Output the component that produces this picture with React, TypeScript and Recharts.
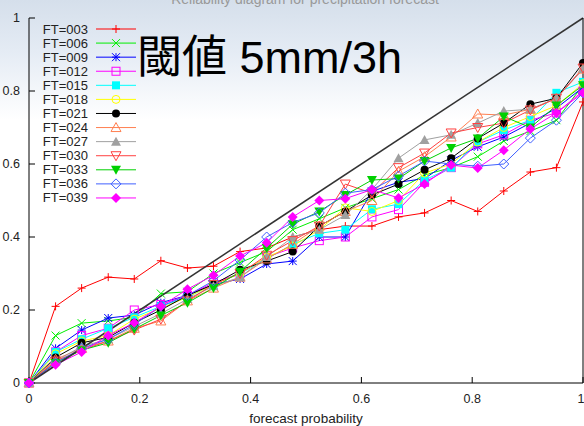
import React from 'react';
import { LineChart, Line, XAxis, YAxis, ReferenceLine } from 'recharts';

// forecast probability bins (x)
const probs = [0, 0.048, 0.095, 0.143, 0.19, 0.238, 0.286, 0.333, 0.381, 0.429, 0.476, 0.524, 0.571, 0.619, 0.667, 0.714, 0.762, 0.81, 0.857, 0.905, 0.952, 1];

// observed frequency per forecast time
const ft003 = [0, 0.21, 0.26, 0.29, 0.285, 0.335, 0.315, 0.32, 0.36, 0.37, 0.4, 0.42, 0.43, 0.43, 0.455, 0.466, 0.5, 0.47, 0.526, 0.578, 0.59, 0.77];
const ft006 = [0, 0.13, 0.164, 0.17, 0.18, 0.245, 0.25, 0.3, 0.33, 0.36, 0.42, 0.45, 0.48, 0.505, 0.53, 0.57, 0.59, 0.62, 0.663, 0.69, 0.72, 0.816];
const ft009 = [0, 0.095, 0.145, 0.178, 0.186, 0.22, 0.24, 0.27, 0.285, 0.326, 0.334, 0.4, 0.4, 0.525, 0.55, 0.56, 0.61, 0.647, 0.674, 0.712, 0.753, 0.81];
const ft012 = [0, 0.085, 0.13, 0.15, 0.2, 0.215, 0.24, 0.275, 0.3, 0.345, 0.37, 0.39, 0.4, 0.455, 0.475, 0.55, 0.59, 0.655, 0.68, 0.72, 0.74, 0.8];
const ft015 = [0, 0.085, 0.12, 0.15, 0.18, 0.21, 0.235, 0.27, 0.3, 0.34, 0.38, 0.41, 0.42, 0.476, 0.49, 0.556, 0.59, 0.66, 0.693, 0.72, 0.795, 0.825];
const ft018 = [0, 0.08, 0.115, 0.13, 0.175, 0.205, 0.235, 0.27, 0.3, 0.345, 0.375, 0.42, 0.48, 0.47, 0.5, 0.575, 0.6, 0.66, 0.7, 0.73, 0.76, 0.82];
const ft021 = [0, 0.07, 0.11, 0.125, 0.165, 0.2, 0.24, 0.27, 0.31, 0.334, 0.36, 0.43, 0.47, 0.515, 0.545, 0.584, 0.616, 0.67, 0.712, 0.764, 0.78, 0.877];
const ft024 = [0, 0.065, 0.095, 0.115, 0.15, 0.17, 0.225, 0.26, 0.29, 0.34, 0.38, 0.43, 0.47, 0.5, 0.58, 0.62, 0.674, 0.737, 0.734, 0.75, 0.78, 0.86];
const ft027 = [0, 0.06, 0.1, 0.12, 0.155, 0.19, 0.23, 0.265, 0.29, 0.345, 0.4, 0.42, 0.46, 0.53, 0.616, 0.666, 0.68, 0.712, 0.745, 0.75, 0.78, 0.86];
const ft030 = [0, 0.06, 0.09, 0.115, 0.145, 0.175, 0.225, 0.27, 0.3, 0.35, 0.39, 0.43, 0.545, 0.52, 0.59, 0.63, 0.685, 0.7, 0.712, 0.748, 0.78, 0.863];
const ft033 = [0, 0.055, 0.09, 0.11, 0.148, 0.185, 0.22, 0.26, 0.305, 0.37, 0.435, 0.47, 0.515, 0.556, 0.56, 0.608, 0.644, 0.67, 0.73, 0.7, 0.76, 0.816];
const ft036 = [0, 0.055, 0.095, 0.12, 0.16, 0.21, 0.24, 0.28, 0.337, 0.4, 0.44, 0.466, 0.52, 0.53, 0.567, 0.608, 0.6, 0.594, 0.6, 0.671, 0.72, 0.795];
const ft039 = [0, 0.05, 0.085, 0.13, 0.165, 0.21, 0.257, 0.295, 0.348, 0.384, 0.455, 0.5, 0.505, 0.53, 0.507, 0.545, 0.597, 0.589, 0.638, 0.696, 0.74, 0.795];

const axisTicks = [0, 0.2, 0.4, 0.6, 0.8, 1];

const series = [
  { key: 'ft003', name: 'FT=003', values: ft003, color: '#ff0000', shape: 'plus' },
  { key: 'ft006', name: 'FT=006', values: ft006, color: '#00ee00', shape: 'cross' },
  { key: 'ft009', name: 'FT=009', values: ft009, color: '#0000ff', shape: 'star' },
  { key: 'ft012', name: 'FT=012', values: ft012, color: '#ff00ff', shape: 'square' },
  { key: 'ft015', name: 'FT=015', values: ft015, color: '#00ffff', shape: 'squareFilled' },
  { key: 'ft018', name: 'FT=018', values: ft018, color: '#ffff00', shape: 'circle' },
  { key: 'ft021', name: 'FT=021', values: ft021, color: '#000000', shape: 'circleFilled' },
  { key: 'ft024', name: 'FT=024', values: ft024, color: '#ff7f50', shape: 'triangle' },
  { key: 'ft027', name: 'FT=027', values: ft027, color: '#a0a0a0', shape: 'triangleFilled' },
  { key: 'ft030', name: 'FT=030', values: ft030, color: '#ff4040', shape: 'triangleDown' },
  { key: 'ft033', name: 'FT=033', values: ft033, color: '#00d000', shape: 'triangleDownFilled' },
  { key: 'ft036', name: 'FT=036', values: ft036, color: '#4060ff', shape: 'diamond' },
  { key: 'ft039', name: 'FT=039', values: ft039, color: '#ff00ff', shape: 'diamondFilled' },
];

const rows = probs.map((p, i) => {
  const row: Record<string, number> = { p };
  series.forEach(s => { row[s.key] = s.values[i]; });
  return row;
});

const FONT = '"Liberation Sans", Arial, sans-serif';

function Marker({ x, y, shape, color }: { x: number; y: number; shape: string; color: string }) {
  const r = 4;
  const sw = 1;
  switch (shape) {
    case 'plus':
      return <g stroke={color} strokeWidth={sw}><line x1={x - r} y1={y} x2={x + r} y2={y} /><line x1={x} y1={y - r} x2={x} y2={y + r} /></g>;
    case 'cross':
      return <g stroke={color} strokeWidth={sw}><line x1={x - r} y1={y - r} x2={x + r} y2={y + r} /><line x1={x - r} y1={y + r} x2={x + r} y2={y - r} /></g>;
    case 'star':
      return <g stroke={color} strokeWidth={sw}><line x1={x - r} y1={y} x2={x + r} y2={y} /><line x1={x} y1={y - r} x2={x} y2={y + r} /><line x1={x - r} y1={y - r} x2={x + r} y2={y + r} /><line x1={x - r} y1={y + r} x2={x + r} y2={y - r} /></g>;
    case 'square':
      return <rect x={x - r} y={y - r} width={2 * r} height={2 * r} fill="none" stroke={color} strokeWidth={sw} />;
    case 'squareFilled':
      return <rect x={x - r} y={y - r} width={2 * r} height={2 * r} fill={color} />;
    case 'circle':
      return <circle cx={x} cy={y} r={r} fill="none" stroke={color} strokeWidth={sw} />;
    case 'circleFilled':
      return <circle cx={x} cy={y} r={r} fill={color} />;
    case 'triangle':
      return <polygon points={`${x},${y - r - 1} ${x + r + 1},${y + r} ${x - r - 1},${y + r}`} fill="none" stroke={color} strokeWidth={sw} />;
    case 'triangleFilled':
      return <polygon points={`${x},${y - r - 1} ${x + r + 1},${y + r} ${x - r - 1},${y + r}`} fill={color} />;
    case 'triangleDown':
      return <polygon points={`${x},${y + r + 1} ${x + r + 1},${y - r} ${x - r - 1},${y - r}`} fill="none" stroke={color} strokeWidth={sw} />;
    case 'triangleDownFilled':
      return <polygon points={`${x},${y + r + 1} ${x + r + 1},${y - r} ${x - r - 1},${y - r}`} fill={color} />;
    case 'diamond':
      return <polygon points={`${x},${y - r - 1} ${x + r + 1},${y} ${x},${y + r + 1} ${x - r - 1},${y}`} fill="none" stroke={color} strokeWidth={sw} />;
    default:
      return <polygon points={`${x},${y - r - 1} ${x + r + 1},${y} ${x},${y + r + 1} ${x - r - 1},${y}`} fill={color} />;
  }
}

export default function App() {
  return (
    <div
      style={{
        position: 'absolute',
        left: 0,
        top: 0,
        width: 584,
        height: 426,
        overflow: 'hidden',
        background: 'linear-gradient(to bottom, #d5dfeb 0px, #e4ebf4 50px, #ffffff 120px)',
      }}
    >
      <LineChart width={584} height={426} data={rows} margin={{ top: 18, right: 0, bottom: 0, left: 1 }}>
        <XAxis
          dataKey="p"
          type="number"
          domain={[0, 1]}
          ticks={axisTicks}
          tickFormatter={v => String(v)}
          height={43}
          tickSize={-6}
          tickMargin={17}
          stroke="#000"
          tick={{ fill: '#222', fontSize: 12.5, fontFamily: FONT }}
          label={{ value: 'forecast probability', position: 'insideBottom', offset: 3, fill: '#222', fontSize: 13.5, fontFamily: FONT }}
        />
        <XAxis xAxisId="top" dataKey="p" type="number" domain={[0, 1]} ticks={axisTicks} orientation="top" height={0} tickSize={-6} tick={false} stroke="#000" />
        <YAxis
          type="number"
          domain={[0, 1]}
          ticks={axisTicks}
          tickFormatter={v => String(v)}
          width={28}
          tickSize={-6}
          tickMargin={15}
          stroke="#000"
          tick={{ fill: '#222', fontSize: 12.5, fontFamily: FONT }}
        />
        <YAxis yAxisId="right" type="number" domain={[0, 1]} ticks={axisTicks} orientation="right" width={1} tickSize={-6} tick={false} stroke="#000" />
        {series.map(s => (
          <Line
            key={s.key}
            dataKey={s.key}
            type="linear"
            stroke={s.color}
            strokeWidth={1}
            isAnimationActive={false}
            activeDot={false}
            dot={(props: any) => <Marker key={`${s.key}-${props.index}`} x={props.cx} y={props.cy} shape={s.shape} color={s.color} />}
          />
        ))}
        <ReferenceLine segment={[{ x: 0, y: 0 }, { x: 1, y: 1 }]} stroke="#333" strokeWidth={1.5} />
      </LineChart>
      <svg width={584} height={426} style={{ position: 'absolute', left: 0, top: 0, pointerEvents: 'none' }}>
        <text x={305} y={4} textAnchor="middle" fontSize={14} fontFamily={FONT} fill="#999">
          Reliability diagram for precipitation forecast
        </text>
        <text x={137} y={73} fontSize={45} fontFamily='"Liberation Sans", "Noto Sans CJK JP", sans-serif' fill="#000">
          閾値 5mm/3h
        </text>
        {series.map((s, i) => {
          const y = 29 + i * 14.08;
          return (
            <g key={s.key}>
              <text x={88} y={y} textAnchor="end" dominantBaseline="central" fontSize={13} fontFamily={FONT} fill="#222">
                {s.name}
              </text>
              <line x1={96} y1={y} x2={136} y2={y} stroke={s.color} strokeWidth={1} />
              <Marker x={116} y={y} shape={s.shape} color={s.color} />
            </g>
          );
        })}
      </svg>
    </div>
  );
}
